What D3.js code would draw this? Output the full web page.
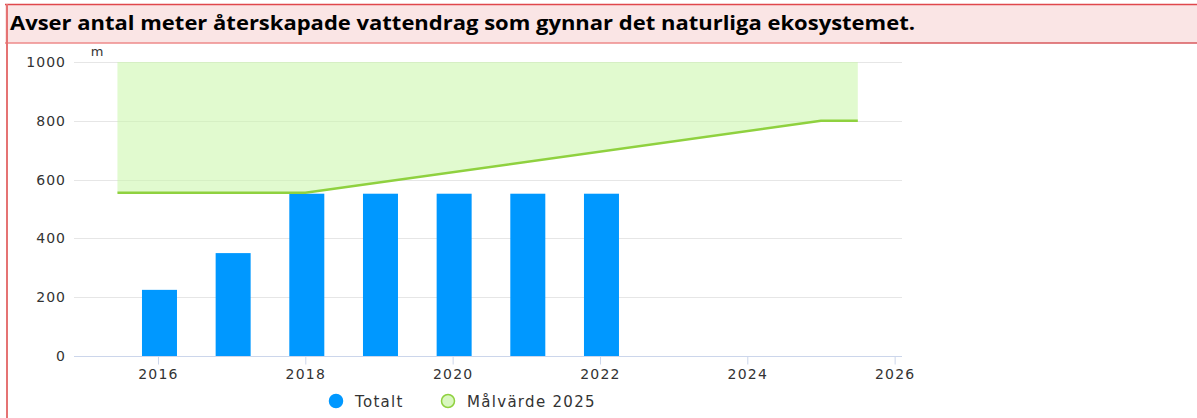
<!DOCTYPE html>
<html>
<head>
<meta charset="utf-8">
<script src="https://cdn.jsdelivr.net/npm/d3@7"></script>
<style>
  body { margin: 0; background: #fff; }
  svg { display: block; }
</style>
</head>
<body>
<div id="chart"></div>
<script>
// data
var years = [2016, 2017, 2018, 2019, 2020, 2021, 2022];
var totals = [225, 350, 552, 552, 552, 552, 552];
var targetYears = [2015.45, 2018, 2025, 2025.5];
var targetValues = [555, 555, 800, 800];
var targetTop = 1000;
var yTicks = [0, 200, 400, 600, 800, 1000];
var xTicks = [2016, 2018, 2020, 2022, 2024, 2026];
var legendNames = ['Totalt', 'Målvärde 2025'];
var title = 'Avser antal meter återskapade vattendrag som gynnar det naturliga ekosystemet.';

var svgWidth = 1197;
var svgHeight = 418;

var svg = d3.select('#chart')
    .append('svg')
    .attr('width', svgWidth)
    .attr('height', svgHeight);

// header box
svg.append('rect')
    .attr('x', 5).attr('y', 4)
    .attr('width', 1192).attr('height', 39)
    .attr('fill', '#fae5e5');
svg.append('line')
    .attr('x1', 5).attr('x2', 1197).attr('y1', 4.5).attr('y2', 4.5)
    .attr('stroke', '#e0474c').attr('stroke-width', 1.5);
svg.append('line')
    .attr('x1', 5).attr('x2', 880).attr('y1', 43).attr('y2', 43)
    .attr('stroke', '#ee8a8a').attr('stroke-width', 1.5);
svg.append('line')
    .attr('x1', 880).attr('x2', 1197).attr('y1', 43).attr('y2', 43)
    .attr('stroke', '#d9595c').attr('stroke-width', 1.5);
svg.append('line')
    .attr('x1', 7).attr('x2', 7).attr('y1', 4).attr('y2', 418)
    .attr('stroke', '#e57373').attr('stroke-width', 2);

svg.append('text')
    .attr('x', 10).attr('y', 30)
    .attr('font-family', 'Open Sans, sans-serif')
    .attr('font-weight', 'bold')
    .attr('font-size', 20)
    .attr('textLength', 905)
    .attr('lengthAdjust', 'spacingAndGlyphs')
    .attr('fill', '#000')
    .text(title);

// chart area
var plotLeft = 74, plotRight = 902, plotTop = 62, plotBottom = 356;

var xScale = d3.scaleLinear()
    .domain([2014.86, 2026.1])
    .range([plotLeft, plotRight]);
var yScale = d3.scaleLinear()
    .domain([0, 1000])
    .range([plotBottom, plotTop]);

var chartGroup = svg.append('g');

// gridlines
chartGroup.selectAll('.grid')
    .data(yTicks.filter(d => d > 0))
    .enter()
    .append('line')
    .attr('x1', plotLeft).attr('x2', plotRight)
    .attr('y1', d => Math.round(yScale(d)) + 0.5)
    .attr('y2', d => Math.round(yScale(d)) + 0.5)
    .attr('stroke', '#e6e6e6');

// target band
var target = targetYears.map((y, i) => ({ x: y, v: targetValues[i] }));
var area = d3.area()
    .x(d => xScale(d.x))
    .y0(d => yScale(d.v))
    .y1(yScale(targetTop));
chartGroup.append('path')
    .datum(target)
    .attr('d', area)
    .attr('fill', '#c8f5a8')
    .attr('fill-opacity', 0.55);

// bars
var barWidth = 35;
chartGroup.selectAll('.bar')
    .data(years)
    .enter()
    .append('rect')
    .attr('x', d => xScale(d) - barWidth / 2 + 1.5)
    .attr('y', (d, i) => yScale(totals[i]))
    .attr('width', barWidth)
    .attr('height', (d, i) => yScale(0) - yScale(totals[i]))
    .attr('fill', '#0098ff');

var line = d3.line()
    .x(d => xScale(d.x))
    .y(d => yScale(d.v));
chartGroup.append('path')
    .datum(target)
    .attr('d', line)
    .attr('fill', 'none')
    .attr('stroke', '#8fd13f')
    .attr('stroke-width', 2.5);

// axes
var bottomAxis = d3.axisBottom(xScale)
    .tickValues(xTicks)
    .tickFormat(d3.format('d'))
    .tickSize(8)
    .tickPadding(5);
var xg = chartGroup.append('g')
    .attr('transform', `translate(0, ${plotBottom + 0.5})`)
    .call(bottomAxis);
xg.select('.domain').attr('stroke', '#ccd6eb').attr('d', `M${plotLeft},0H${plotRight}`);
xg.selectAll('.tick line').attr('stroke', '#ccd6eb');
xg.selectAll('.tick text')
    .attr('font-family', 'DejaVu Sans, sans-serif')
    .attr('font-size', 14)
    .attr('letter-spacing', 1.2)
    .attr('fill', '#333');

var leftAxis = d3.axisLeft(yScale)
    .tickValues(yTicks)
    .tickFormat(d3.format('d'))
    .tickSize(0)
    .tickPadding(8);
var yg = chartGroup.append('g')
    .attr('transform', `translate(${plotLeft}, 0)`)
    .call(leftAxis);
yg.select('.domain').remove();
yg.selectAll('.tick text')
    .attr('font-family', 'DejaVu Sans, sans-serif')
    .attr('font-size', 14)
    .attr('letter-spacing', 1)
    .attr('fill', '#333');

svg.append('text')
    .attr('x', 97).attr('y', 56)
    .attr('text-anchor', 'middle')
    .attr('font-family', 'DejaVu Sans, sans-serif')
    .attr('font-size', 13)
    .attr('fill', '#333')
    .text('m');

// legend
var legend = svg.append('g').attr('transform', 'translate(0, 401)');
var legendX = [336, 448];
var legendFill = ['#0098ff', '#d9f7c0'];
var legendStroke = ['#0098ff', '#8fd13f'];
legendNames.forEach(function(name, i) {
    legend.append('circle')
        .attr('cx', legendX[i]).attr('cy', 0).attr('r', 6.5)
        .attr('fill', legendFill[i])
        .attr('stroke', legendStroke[i])
        .attr('stroke-width', 1.5);
    legend.append('text')
        .attr('x', legendX[i] + 19).attr('y', 6)
        .attr('font-family', 'DejaVu Sans, sans-serif')
        .attr('font-size', 15)
        .attr('letter-spacing', 1.3)
        .attr('fill', '#333')
        .text(name);
});
</script>
</body>
</html>
